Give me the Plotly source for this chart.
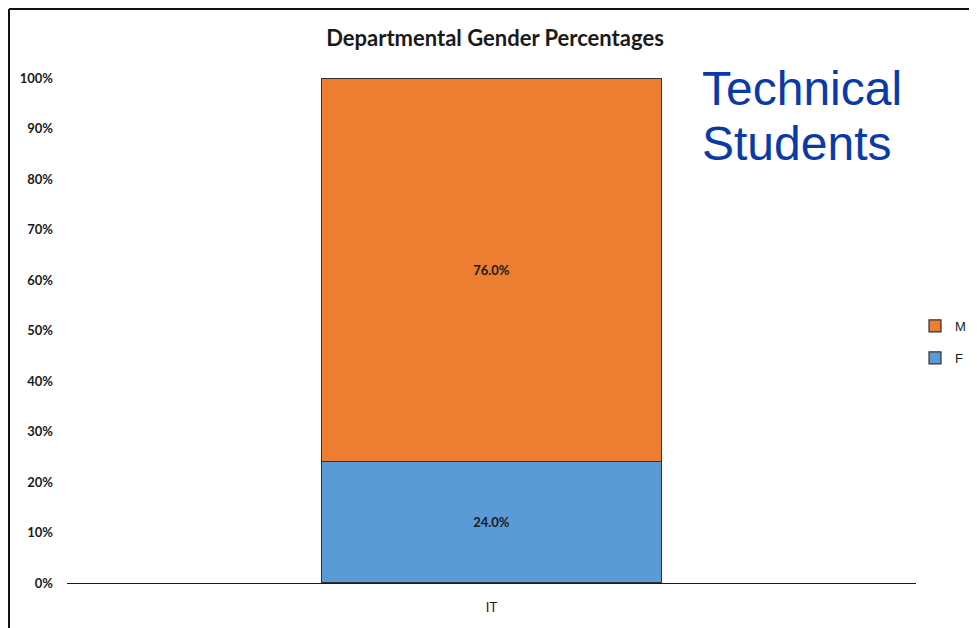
import plotly.graph_objects as go

categories = ["IT"]
female = [0.24]
male = [0.76]
y_ticks = [0, 0.1, 0.2, 0.3, 0.4, 0.5, 0.6, 0.7, 0.8, 0.9, 1.0]
y_tick_labels = ["0%", "10%", "20%", "30%", "40%", "50%", "60%", "70%", "80%", "90%", "100%"]

# page body has an 8px margin; work in reference pixel coords and shift
OFF = 8
W, H = 977, 628
L = 67 - OFF
T = 78 - OFF
B = H - (583 - OFF)
R = W - (916 - OFF)
PW, PH = W - L - R, H - T - B

def px2x(px):
    return (px - OFF - L) / PW

def py2y(py):
    return (H - B - (py - OFF)) / PH

FONT = "Lato, Roboto, sans-serif"

fig = go.Figure()
fig.add_trace(go.Bar(
    x=categories, y=female, name="F",
    marker=dict(color="#5B9BD5", line=dict(color="#333333", width=1.2)),
    texttemplate="<b>%{y:.1%}</b>", textposition="inside", insidetextanchor="middle",
    textfont=dict(family=FONT, size=13, color="#1a1a1a"),
    width=0.4, legendgroup="F", legendrank=2,
))
fig.add_trace(go.Bar(
    x=categories, y=male, name="M",
    marker=dict(color="#ED7D31", line=dict(color="#333333", width=1.2)),
    texttemplate="<b>%{y:.1%}</b>", textposition="inside", insidetextanchor="middle",
    textfont=dict(family=FONT, size=13, color="#1a1a1a"),
    width=0.4, legendgroup="M", legendrank=1,
))

fig.update_layout(
    width=W, height=H,
    margin=dict(l=L, r=R, t=T, b=B, autoexpand=False),
    barmode="stack",
    paper_bgcolor="white", plot_bgcolor="white",
    title=dict(text="<b>Departmental Gender Percentages</b>", x=px2x(495), xref="paper",
               xanchor="center", y=1 - (38 - OFF) / H, yanchor="middle",
               font=dict(family=FONT, size=22, color="#1a1a1a")),
    showlegend=True,
    legend=dict(x=px2x(915), y=py2y(311), xanchor="left", yanchor="top",
                traceorder="grouped", tracegroupgap=12,
                font=dict(family="Liberation Sans, Arial, sans-serif", size=13, color="#1a1a1a"),
                itemwidth=30, bgcolor="rgba(0,0,0,0)"),
    xaxis=dict(range=[-0.5, 0.5], showline=True, linecolor="#1a1a1a", linewidth=1.3,
               ticks="", showgrid=False, zeroline=False, ticklabelstandoff=12,
               tickfont=dict(family=FONT, size=13, color="#1a1a1a")),
    yaxis=dict(range=[0, 1], tickvals=y_ticks, ticktext=["<b>%s</b>" % t for t in y_tick_labels],
               showline=False, showgrid=False, zeroline=False, ticks="",
               ticklabelstandoff=13,
               tickfont=dict(family=FONT, size=13, color="#1a1a1a")),
    font=dict(family=FONT),
)

fig.add_annotation(text="Technical", xref="paper", yref="paper", x=px2x(700), y=py2y(88),
                   xanchor="left", yanchor="middle", showarrow=False,
                   font=dict(family="Liberation Sans, Arial, sans-serif", size=48, color="#0a3aa6"))
fig.add_annotation(text="Students", xref="paper", yref="paper", x=px2x(700), y=py2y(143),
                   xanchor="left", yanchor="middle", showarrow=False,
                   font=dict(family="Liberation Sans, Arial, sans-serif", size=48, color="#0a3aa6"))

# outer frame lines (top and left), at the figure's own edge
fig.add_shape(type="line", xref="paper", yref="paper", x0=px2x(9), x1=px2x(990), y0=py2y(9), y1=py2y(9),
              line=dict(color="#111111", width=2))
fig.add_shape(type="line", xref="paper", yref="paper", x0=px2x(9), x1=px2x(9), y0=py2y(9), y1=py2y(640),
              line=dict(color="#111111", width=2))

fig.write_html("out.html")
